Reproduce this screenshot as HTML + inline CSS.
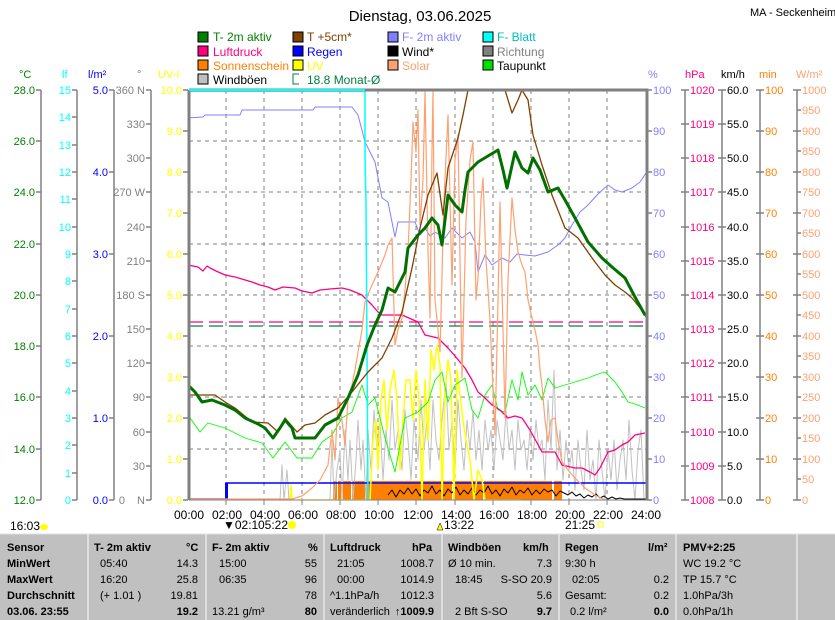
<!DOCTYPE html>
<html><head><meta charset="utf-8"><style>
body{margin:0;background:#fff;width:835px;height:620px;overflow:hidden}
svg{display:block;font-family:"Liberation Sans",sans-serif}
</style></head><body>
<svg width="835" height="620" viewBox="0 0 835 620" xmlns="http://www.w3.org/2000/svg">
<rect width="835" height="620" fill="#fff"/>
<text x="420" y="21" font-size="15" text-anchor="middle">Dienstag, 03.06.2025</text>
<text x="750" y="16" font-size="11">MA - Seckenheim</text>

<!-- legend -->
<g font-size="12">
<rect x="198" y="32" width="10" height="10" fill="#008000" stroke="#000"/><text x="213" y="41" fill="#008000">T- 2m aktiv</text>
<rect x="198" y="46" width="10" height="10" fill="#ff0080" stroke="#000"/><text x="213" y="56" fill="#ff0080">Luftdruck</text>
<rect x="198" y="60" width="10" height="10" fill="#ff8000" stroke="#000"/><text x="213" y="70" fill="#ff8000">Sonnenschein</text>
<rect x="198" y="74" width="10" height="10" fill="#c0c0c0" stroke="#000"/><text x="213" y="84" fill="#000">Windböen</text>
<rect x="293" y="32" width="10" height="10" fill="#804000" stroke="#000"/><text x="307" y="41" fill="#804000">T +5cm*</text>
<rect x="293" y="46" width="10" height="10" fill="#0000ff" stroke="#000"/><text x="307" y="56" fill="#0000ff">Regen</text>
<rect x="293" y="60" width="10" height="10" fill="#ffff00" stroke="#000"/><text x="307" y="70" fill="#ffff00">UV</text>
<path d="M299 74h-6v10h6M299 84" fill="none" stroke="#008040"/><text x="307" y="84" fill="#008040">18.8 Monat-Ø</text>
<rect x="388" y="32" width="10" height="10" fill="#8080ff" stroke="#000"/><text x="402" y="41" fill="#8080ff">F- 2m aktiv</text>
<rect x="388" y="46" width="10" height="10" fill="#000" stroke="#000"/><text x="402" y="56" fill="#000">Wind*</text>
<rect x="388" y="60" width="10" height="10" fill="#ffa070" stroke="#000"/><text x="402" y="70" fill="#ffa070">Solar</text>
<rect x="483" y="32" width="10" height="10" fill="#00ffff" stroke="#000"/><text x="497" y="41" fill="#00c0c0">F- Blatt</text>
<rect x="483" y="46" width="10" height="10" fill="#808080" stroke="#000"/><text x="497" y="56" fill="#808080">Richtung</text>
<rect x="483" y="60" width="10" height="10" fill="#00e000" stroke="#000"/><text x="497" y="70" fill="#000">Taupunkt</text>
</g>

<!-- unit labels -->
<g font-size="11">
<text x="19" y="78" fill="#008000">°C</text>
<text x="62" y="78" fill="#00ffff">lf</text>
<text x="88" y="78" fill="#0000ff">l/m²</text>
<text x="137" y="78" fill="#808080">°</text>
<text x="158" y="78" fill="#ffff00">UV-I</text>
<text x="648" y="78" fill="#8080ff">%</text>
<text x="685" y="78" fill="#ff0080">hPa</text>
<text x="721" y="78" fill="#000">km/h</text>
<text x="759" y="78" fill="#ff8000">min</text>
<text x="796" y="78" fill="#ffa070">W/m²</text>
</g>

<!-- axis lines -->
<g stroke="#808080" stroke-width="1.5" fill="none">
<path d="M41 90V500M77 90V500M114 90V500M151 90V500M685 90V500M722 90V500M760 90V500M797 90V500"/>
<path d="M36 90h5M36 141h5M36 192h5M36 244h5M36 295h5M36 346h5M36 397h5M36 449h5M36 500h5"/>
<path d="M72 90h5M72 117h5M72 145h5M72 172h5M72 199h5M72 227h5M72 254h5M72 281h5M72 309h5M72 336h5M72 363h5M72 391h5M72 418h5M72 445h5M72 473h5M72 500h5"/>
<path d="M109 90h5M109 172h5M109 254h5M109 336h5M109 418h5M109 500h5"/>
<path d="M146 90h5M146 124h5M146 158h5M146 192h5M146 227h5M146 261h5M146 295h5M146 329h5M146 363h5M146 397h5M146 432h5M146 466h5M146 500h5"/>
<path d="M183 90h5M183 131h5M183 172h5M183 213h5M183 254h5M183 295h5M183 336h5M183 377h5M183 418h5M183 459h5M183 500h5"/>
<path d="M647 90h5M647 131h5M647 172h5M647 213h5M647 254h5M647 295h5M647 336h5M647 377h5M647 418h5M647 459h5M647 500h5"/>
<path d="M681 90h8M681 124h8M681 158h8M681 192h8M681 227h8M681 261h8M681 295h8M681 329h8M681 363h8M681 397h8M681 432h8M681 466h8M681 500h8"/>
<path d="M718 90h8M718 124h8M718 158h8M718 192h8M718 227h8M718 261h8M718 295h8M718 329h8M718 363h8M718 397h8M718 432h8M718 466h8M718 500h8"/>
<path d="M756 90h8M756 131h8M756 172h8M756 213h8M756 254h8M756 295h8M756 336h8M756 377h8M756 418h8M756 459h8M756 500h8"/>
<path d="M793 90h8M797 110h4M793 131h8M797 151h4M793 172h8M797 192h4M793 213h8M797 233h4M793 254h8M797 274h4M793 295h8M797 315h4M793 336h8M797 356h4M793 377h8M797 397h4M793 418h8M797 438h4M793 459h8M797 479h4M793 500h8"/>
</g>

<!-- left labels -->
<g font-size="11" text-anchor="end">
<g fill="#008000"><text x="35" y="94">28.0</text><text x="35" y="145">26.0</text><text x="35" y="196">24.0</text><text x="35" y="248">22.0</text><text x="35" y="299">20.0</text><text x="35" y="350">18.0</text><text x="35" y="401">16.0</text><text x="35" y="453">14.0</text><text x="35" y="504">12.0</text></g>
<g fill="#00ffff"><text x="71" y="94">15</text><text x="71" y="121">14</text><text x="71" y="149">13</text><text x="71" y="176">12</text><text x="71" y="203">11</text><text x="71" y="231">10</text><text x="71" y="258">9</text><text x="71" y="285">8</text><text x="71" y="313">7</text><text x="71" y="340">6</text><text x="71" y="367">5</text><text x="71" y="395">4</text><text x="71" y="422">3</text><text x="71" y="449">2</text><text x="71" y="477">1</text><text x="71" y="504">0</text></g>
<g fill="#0000ff"><text x="108" y="94">5.0</text><text x="108" y="176">4.0</text><text x="108" y="258">3.0</text><text x="108" y="340">2.0</text><text x="108" y="422">1.0</text><text x="108" y="504">0.0</text></g>
<g fill="#808080"><text x="145" y="94">360 N</text><text x="145" y="128">330</text><text x="145" y="162">300</text><text x="145" y="196">270 W</text><text x="145" y="231">240</text><text x="145" y="265">210</text><text x="145" y="299">180 S</text><text x="145" y="333">150</text><text x="145" y="367">120</text><text x="145" y="401">90</text><text x="145" y="436">60</text><text x="145" y="470">30</text><text x="145" y="504">N</text><text x="125" y="504">0</text></g>
<g fill="#ffff00"><text x="182" y="94">10.0</text><text x="182" y="135">9.0</text><text x="182" y="176">8.0</text><text x="182" y="217">7.0</text><text x="182" y="258">6.0</text><text x="182" y="299">5.0</text><text x="182" y="340">4.0</text><text x="182" y="381">3.0</text><text x="182" y="422">2.0</text><text x="182" y="463">1.0</text><text x="182" y="504">0.0</text></g>
</g>
<!-- right labels -->
<g font-size="11">
<g fill="#8080ff"><text x="653" y="94">100</text><text x="653" y="135">90</text><text x="653" y="176">80</text><text x="653" y="217">70</text><text x="653" y="258">60</text><text x="653" y="299">50</text><text x="653" y="340">40</text><text x="653" y="381">30</text><text x="653" y="422">20</text><text x="653" y="463">10</text><text x="653" y="504">0</text></g>
<g fill="#ff0080"><text x="690" y="94">1020</text><text x="690" y="128">1019</text><text x="690" y="162">1018</text><text x="690" y="196">1017</text><text x="690" y="231">1016</text><text x="690" y="265">1015</text><text x="690" y="299">1014</text><text x="690" y="333">1013</text><text x="690" y="367">1012</text><text x="690" y="401">1011</text><text x="690" y="436">1010</text><text x="690" y="470">1009</text><text x="690" y="504">1008</text></g>
<g fill="#000"><text x="727" y="94">60.0</text><text x="727" y="128">55.0</text><text x="727" y="162">50.0</text><text x="727" y="196">45.0</text><text x="727" y="231">40.0</text><text x="727" y="265">35.0</text><text x="727" y="299">30.0</text><text x="727" y="333">25.0</text><text x="727" y="367">20.0</text><text x="727" y="401">15.0</text><text x="727" y="436">10.0</text><text x="727" y="470">5.0</text><text x="727" y="504">0.0</text></g>
<g fill="#ff8000"><text x="765" y="94">100</text><text x="765" y="135">90</text><text x="765" y="176">80</text><text x="765" y="217">70</text><text x="765" y="258">60</text><text x="765" y="299">50</text><text x="765" y="340">40</text><text x="765" y="381">30</text><text x="765" y="422">20</text><text x="765" y="463">10</text><text x="765" y="504">0</text></g>
<g fill="#ffa070"><text x="802" y="94">1000</text><text x="802" y="114">950</text><text x="802" y="135">900</text><text x="802" y="155">850</text><text x="802" y="176">800</text><text x="802" y="196">750</text><text x="802" y="217">700</text><text x="802" y="237">650</text><text x="802" y="258">600</text><text x="802" y="278">550</text><text x="802" y="299">500</text><text x="802" y="319">450</text><text x="802" y="340">400</text><text x="802" y="360">350</text><text x="802" y="381">300</text><text x="802" y="401">250</text><text x="802" y="422">200</text><text x="802" y="442">150</text><text x="802" y="463">100</text><text x="802" y="483">50</text><text x="802" y="504">0</text></g>
</g>

<!-- grid -->
<g stroke="#808080" stroke-dasharray="4,4" fill="none">
<path d="M189 141H646M189 192H646M189 244H646M189 295H646M189 346H646M189 397H646M189 449H646"/>
<path d="M226 90V500M264 90V500M302 90V500M340 90V500M378 90V500M416 90V500M455 90V500M493 90V500M531 90V500M569 90V500M607 90V500"/>
</g>

<defs><clipPath id="c"><rect x="189" y="91" width="457" height="409"/></clipPath></defs>
<g clip-path="url(#c)" fill="none" stroke-linejoin="round">
<!-- sunshine -->
<g fill="#ff8000" stroke="none">
<rect x="333" y="481" width="4" height="19"/><rect x="338" y="481" width="3" height="19"/><rect x="343" y="481" width="8" height="19"/><rect x="352" y="481" width="13" height="19"/><rect x="366" y="481" width="86" height="19"/><rect x="453" y="481" width="30" height="19"/><rect x="484" y="481" width="68" height="19"/><rect x="554" y="481" width="8" height="19"/>
</g>
<!-- gusts -->
<polyline stroke="#c0c0c0" points="280,500 282,465 284,500 287,470 289,500 330,500 332,440 334,500 337,470 340,450 342,500 345,430 348,480 350,440 353,500 356,460 358,420 361,470 363,440 366,500 368,430 371,470 374,410 377,450 380,420 383,480 386,430 389,460 392,400 395,450 398,430 402,470 405,410 408,440 411,480 414,420 418,460 421,400 424,450 427,420 430,470 433,400 436,440 439,460 442,420 446,380 449,450 452,420 455,470 458,400 461,440 464,470 467,420 470,450 473,410 476,460 479,430 482,470 485,420 488,450 491,430 494,470 497,420 500,440 503,460 506,410 509,450 512,430 515,470 518,420 521,450 524,440 527,470 530,430 533,460 536,420 539,450 542,440 545,480 548,400 551,450 554,370 557,470 560,430 563,480 566,440 569,470 572,450 575,490 578,440 581,470 584,490 587,430 590,480 593,460 596,500 599,440 602,470 605,500 608,450 611,480 614,440 617,490 620,460 623,440 626,480 629,420 632,470 635,500 638,450 641,430 644,500"/>
<!-- rain -->
<path d="M189 499H226V483H646" stroke="#0000ff" stroke-width="1.5"/>
<rect x="225" y="483" width="3" height="17" fill="#0000ff"/>
<!-- wind -->
<polyline stroke="#000" points="388,495 392,490 396,497 400,490 404,494 408,488 412,494 416,489 420,496 424,490 428,493 432,486 436,494 440,490 444,496 448,489 452,493 456,487 460,495 464,490 468,494 472,488 476,495 480,490 484,493 488,486 492,494 496,490 500,496 504,489 508,493 512,487 516,495 520,490 524,493 528,488 532,495 536,490 540,494 544,489 548,492 552,490 556,496 560,491 564,493 568,495 572,492 576,496 580,494 584,498 588,495 592,497 596,494 600,498 604,496 608,499 612,497 616,499 620,498 624,499 646,499"/>
<!-- UV -->
<polyline stroke="#ffff00" stroke-width="1.5" points="290,500 291,485 292,500 370,500 373,440 376,420 378,470 381,400 384,380 387,430 390,390 394,370 397,400 400,470 403,420 406,380 410,380 413,420 416,370 419,400 422,500 425,380 428,440 431,350 434,370 437,345 440,365 442,500 445,390 448,360 451,380 454,500 457,370 460,395 463,420 466,440 470,460 474,500 478,470 482,480 485,500 490,500 520,500 521,500"/>
<!-- dewpoint -->
<polyline stroke="#00ff00" stroke-width="0.9" points="188,415 200,432 208,423 225,428 245,438 262,443 273,458 285,442 297,458 312,458 322,442 332,435 342,418 352,412 362,385 368,405 375,398 385,438 395,472 405,418 418,412 428,402 435,380 442,372 448,402 455,385 465,378 472,410 478,418 485,395 492,385 498,410 505,412 512,380 518,400 522,372 528,395 535,385 542,400 548,378 555,388 565,385 575,382 588,378 598,374 605,372 615,382 622,392 628,402 635,404 645,408"/>
<!-- pressure -->
<polyline stroke="#ff0080" stroke-width="1.3" points="188,265 198,267 203,271 207,266 210,268 216,271 225,275 235,277 252,282 260,285 268,287 275,290 283,287 295,288 302,291 312,293 320,290 330,289 342,288 350,290 362,295 372,305 378,312 382,315 402,315 418,322 425,335 438,338 448,348 455,356 465,368 472,380 478,392 485,398 492,405 500,410 508,418 515,416 522,418 530,430 542,452 555,452 562,465 575,468 582,468 590,472 595,475 600,468 608,452 615,450 622,445 628,442 635,435 645,433"/>
<path d="M189 322H646" stroke="#ff0080" stroke-dasharray="14,6" stroke-width="1.3"/>
<path d="M189 326H646" stroke="#008040" stroke-dasharray="14,6" stroke-width="1.3"/>
<!-- humidity -->
<polyline stroke="#8080ff" points="188,118 203,117 205,115 240,115 242,110 313,110 315,107 352,107 358,115 365,142 375,162 382,198 388,202 395,237 398,222 415,222 420,235 425,228 430,236 435,232 445,238 452,228 462,238 470,232 475,242 478,272 485,255 492,265 502,258 510,262 517,254 525,255 535,256 548,252 558,245 565,238 572,225 580,212 588,205 598,194 608,185 615,190 622,192 632,188 640,182 646,173"/>
<!-- solar -->
<polyline stroke="#ffa070" stroke-width="1.2" points="189,499 292,499 302,496 312,488 320,480 328,465 332,430 335,460 338,398 342,420 345,445 348,400 352,385 355,370 358,352 362,330 365,302 372,285 378,272 385,255 388,245 392,238 395,345 398,330 402,318 405,290 408,252 411,180 413,122 416,152 418,110 420,225 423,180 425,92 428,250 430,318 432,150 433,92 435,300 438,330 440,352 444,200 448,115 450,200 452,285 455,160 458,135 460,260 462,378 466,220 470,160 473,142 476,300 478,278 481,200 483,178 486,260 490,320 495,435 498,300 500,202 503,330 505,418 508,280 512,198 515,230 518,252 522,265 525,272 528,300 532,318 535,330 538,345 540,370 542,385 545,420 548,442 551,420 555,418 558,440 562,462 568,470 575,478 585,488 595,495 605,500"/>
<!-- cyan leaf -->
<polyline stroke="#00ffff" stroke-width="1.5" points="189,91 365,91 365,155 366,205 368,500"/>
<!-- T+5cm -->
<polyline stroke="#804000" stroke-width="1.3" points="188,395 215,395 225,402 235,408 252,422 268,423 278,432 285,418 297,432 305,425 315,423 325,415 338,408 352,392 368,372 382,358 392,338 402,312 412,268 420,228 428,195 437,173 443,215 448,168 458,138 463,115 468,90 505,90 512,113 518,100 522,90 528,100 533,135 542,165 552,195 565,228 578,238 590,255 595,262 605,275 615,285 625,292 632,298 640,308 646,317"/>
<!-- T 2m -->
<polyline stroke="#007000" stroke-width="3" points="188,385 195,392 202,402 212,400 225,405 235,410 245,418 258,424 265,428 273,438 280,428 285,420 292,428 295,438 315,438 325,425 338,418 348,398 358,375 367,345 375,325 382,310 388,288 395,292 400,282 405,272 408,248 418,235 425,228 432,218 438,225 442,245 448,195 455,205 462,212 465,190 468,172 478,162 488,156 498,150 503,170 507,188 515,152 522,168 528,173 533,158 540,170 548,192 558,188 565,200 575,218 588,242 602,258 612,267 625,278 635,297 645,315"/>
</g>
<path d="M189 90H647V500M189 90V500" stroke="#808080" stroke-width="3" fill="none"/>
<path d="M189 90H365" stroke="#00ffff" stroke-width="2"/>
<path d="M189 500H647" stroke="#808080" stroke-width="1"/>
<path d="M226 500v5M264 500v5M302 500v5M340 500v5M378 500v5M416 500v5M455 500v5M493 500v5M531 500v5M569 500v5M607 500v5" stroke="#808080"/>

<g font-size="12" text-anchor="middle">
<text x="189" y="519">00:00</text><text x="227" y="519">02:00</text><text x="265" y="519">04:00</text><text x="303" y="519">06:00</text><text x="341" y="519">08:00</text><text x="379" y="519">10:00</text><text x="418" y="519">12:00</text><text x="456" y="519">14:00</text><text x="494" y="519">16:00</text><text x="532" y="519">18:00</text><text x="570" y="519">20:00</text><text x="608" y="519">22:00</text><text x="646" y="519">24:00</text>
</g>
<g font-size="12">
<text x="10" y="530">16:03</text><ellipse cx="44" cy="527" rx="4" ry="3" fill="#ffff00"/>
<text x="223" y="529">▼02:1</text><text x="258" y="529">05:22</text><circle cx="292" cy="525" r="4" fill="#ffff00"/>
<text x="444" y="529">13:22</text><path d="M437 530l3-7 3 7z" fill="#ffff00" stroke="#000" stroke-width=".5"/>
<text x="565" y="529">21:25</text><rect x="598" y="522" width="5" height="5" fill="none" stroke="#ffff00"/>
</g>

<rect x="0" y="534" width="835" height="86" fill="#c0c0c0"/>
<path d="M0 534H835" stroke="#e0e0e0"/>
<path d="M88 534V620M206 534V620M324 534V620M442 534V620M559 534V620M676 534V620M797 534V620" stroke="#e8e8e8" stroke-width="1.5"/>
<g font-size="11">
<g font-weight="bold"><text x="7" y="551">Sensor</text><text x="7" y="567">MinWert</text><text x="7" y="583">MaxWert</text><text x="7" y="599">Durchschnitt</text><text x="7" y="615">03.06. 23:55</text>
<text x="94" y="551">T- 2m aktiv</text><text x="186" y="551">°C</text>
<text x="212" y="551">F- 2m aktiv</text><text x="308" y="551">%</text>
<text x="330" y="551">Luftdruck</text><text x="412" y="551">hPa</text>
<text x="448" y="551">Windböen</text><text x="523" y="551">km/h</text>
<text x="565" y="551">Regen</text><text x="648" y="551">l/m²</text>
<text x="683" y="551">PMV+2:25</text></g>
<text x="100" y="567">05:40</text><text x="198" y="567" text-anchor="end">14.3</text>
<text x="100" y="583">16:20</text><text x="198" y="583" text-anchor="end">25.8</text>
<text x="100" y="599">(+ 1.01 )</text><text x="198" y="599" text-anchor="end">19.81</text>
<text x="198" y="615" text-anchor="end" font-weight="bold">19.2</text>
<text x="219" y="567">15:00</text><text x="317" y="567" text-anchor="end">55</text>
<text x="219" y="583">06:35</text><text x="317" y="583" text-anchor="end">96</text>
<text x="317" y="599" text-anchor="end">78</text>
<text x="212" y="615">13.21 g/m³</text><text x="317" y="615" text-anchor="end" font-weight="bold">80</text>
<text x="337" y="567">21:05</text><text x="434" y="567" text-anchor="end">1008.7</text>
<text x="337" y="583">00:00</text><text x="434" y="583" text-anchor="end">1014.9</text>
<text x="330" y="599">^1.1hPa/h</text><text x="434" y="599" text-anchor="end">1012.3</text>
<text x="330" y="615">veränderlich</text><text x="434" y="615" text-anchor="end" font-weight="bold">↑1009.9</text>
<text x="448" y="567">Ø 10 min.</text><text x="552" y="567" text-anchor="end">7.3</text>
<text x="455" y="583">18:45</text><text x="552" y="583" text-anchor="end">S-SO 20.9</text>
<text x="552" y="599" text-anchor="end">5.6</text>
<text x="455" y="615">2 Bft S-SO</text><text x="552" y="615" text-anchor="end" font-weight="bold">9.7</text>
<text x="565" y="567">9:30 h</text>
<text x="572" y="583">02:05</text><text x="669" y="583" text-anchor="end">0.2</text>
<text x="565" y="599">Gesamt:</text><text x="669" y="599" text-anchor="end">0.2</text>
<text x="570" y="615">0.2 l/m²</text><text x="669" y="615" text-anchor="end" font-weight="bold">0.0</text>
<text x="683" y="567">WC 19.2 °C</text><text x="683" y="583">TP 15.7 °C</text><text x="683" y="599">1.0hPa/3h</text><text x="683" y="615">0.0hPa/1h</text>
</g>
</svg>
</body></html>
